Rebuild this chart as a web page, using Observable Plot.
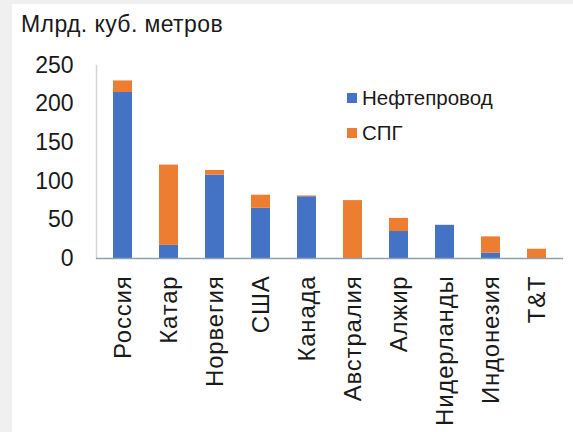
<!DOCTYPE html>
<html>
<head>
<meta charset="utf-8">
<script src="https://cdn.jsdelivr.net/npm/d3@7"></script>
<script src="https://cdn.jsdelivr.net/npm/@observablehq/plot@0.6"></script>
<style>
  html, body { margin: 0; padding: 0; width: 573px; height: 432px; overflow: hidden; background: #f0f0f0; font-family: "Liberation Sans", Arial, sans-serif; }
  #panel { position: absolute; left: 12px; top: 4px; right: 0; bottom: 0; background: #ffffff; }
  #chart { position: absolute; left: 0; top: 0; }
  #title { position: absolute; left: 21px; top: 11px; font-size: 23px; letter-spacing: 0.4px; color: #1a1a1a; white-space: nowrap; }
  #legend { position: absolute; left: 347px; top: 80px; font-size: 20.5px; color: #1a1a1a; }
  .item { display: flex; align-items: center; height: 35px; }
  .sw { width: 10px; height: 10px; margin-right: 5px; }
  #chart g[aria-label="x-axis tick label"] text { letter-spacing: 0.8px; }
</style>
</head>
<body>
<div id="panel"></div>
<div id="chart"></div>
<div id="title">Млрд. куб. метров</div>
<div id="legend"></div>
<script>
const countries = ["Россия", "Катар", "Норвегия", "США", "Канада", "Австралия", "Алжир", "Нидерланды", "Индонезия", "T&T"];
const pipeline = [215, 17, 108, 65, 80, 0, 35, 43, 7, 0];
const lng = [15, 104, 6, 17, 1, 75, 17, 0, 21, 12];
const seriesNames = ["Нефтепровод", "СПГ"];
const seriesColors = ["#4472C4", "#ED7D31"];
const yTicks = [0, 50, 100, 150, 200, 250];

const data = [];
countries.forEach((c, i) => {
  data.push({country: c, series: seriesNames[0], value: pipeline[i]});
  data.push({country: c, series: seriesNames[1], value: lng[i]});
});

const chart = Plot.plot({
  width: 573,
  height: 432,
  marginLeft: 96,
  marginRight: 10,
  marginTop: 65,
  marginBottom: 174,
  style: {background: "transparent", fontFamily: "'Liberation Sans', Arial, sans-serif", color: "#1a1a1a"},
  x: {domain: countries, paddingInner: 0.59, paddingOuter: 0.295, label: null},
  y: {domain: [0, 250], label: null},
  color: {domain: seriesNames, range: seriesColors},
  marks: [
    Plot.frame({anchor: "left", stroke: "#d4d4d4", strokeWidth: 1.5}),
    Plot.barY(data, Plot.stackY({x: "country", y: "value", fill: "series", order: seriesNames})),
    Plot.ruleY([0], {stroke: "#8da0b6", strokeWidth: 1.5}),
    Plot.axisY({ticks: yTicks, tickSize: 0, tickPadding: 23, fontSize: 23, label: null}),
    Plot.axisX({tickSize: 0, tickPadding: 17, tickRotate: -90, fontSize: 24, label: null})
  ]
});
document.getElementById("chart").appendChild(chart);

const legend = document.getElementById("legend");
seriesNames.forEach((s, i) => {
  const row = document.createElement("div");
  row.className = "item";
  const sw = document.createElement("div");
  sw.className = "sw";
  sw.style.background = seriesColors[i];
  const t = document.createElement("span");
  t.textContent = s;
  row.appendChild(sw);
  row.appendChild(t);
  legend.appendChild(row);
});
</script>
</body>
</html>
